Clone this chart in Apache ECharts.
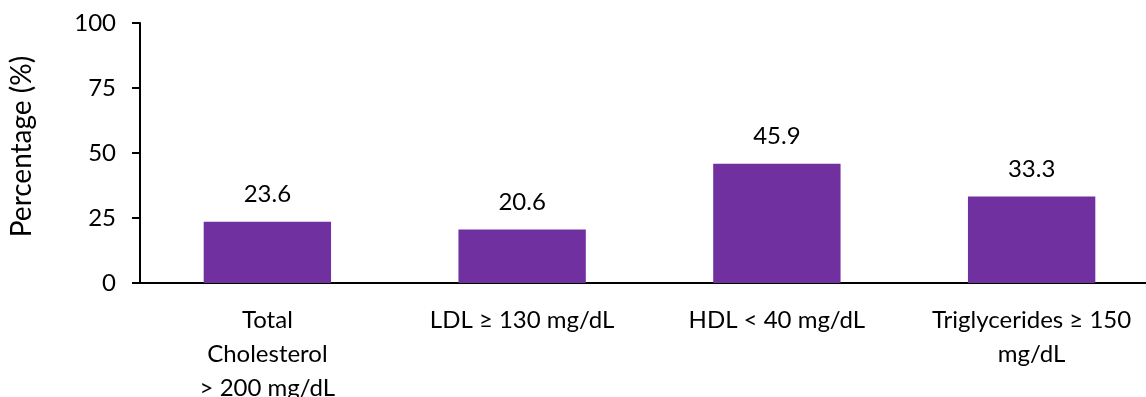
<!DOCTYPE html>
<html>
<head>
<meta charset="utf-8">
<script src="https://cdn.jsdelivr.net/npm/echarts@6/dist/echarts.min.js"></script>
<style>
  html, body { margin: 0; padding: 0; background: #fff; }
  #chart { width: 1146px; height: 397px; }
</style>
</head>
<body>
<div id="chart"></div>
<script>
// Lipid abnormality prevalence
const categories = [
  'Total\nCholesterol\n> 200 mg/dL',
  'LDL ≥ 130 mg/dL',
  'HDL < 40 mg/dL',
  'Triglycerides ≥ 150\nmg/dL'
];
const percentages = [23.6, 20.6, 45.9, 33.3];
const yTicks = [0, 25, 50, 75, 100];

const FONT = 'Lato, "Open Sans", sans-serif';
const chart = echarts.init(document.getElementById('chart'), null, { renderer: 'canvas' });

chart.setOption({
  animation: false,
  textStyle: { fontFamily: FONT },
  grid: {
    left: 140, right: -13, top: 23, bottom: 114,
    containLabel: false,
    outerBoundsMode: 'none'
  },
  xAxis: {
    type: 'category',
    data: categories,
    axisLine: { lineStyle: { color: '#000', width: 2 } },
    axisTick: { show: false },
    axisLabel: {
      color: '#000', fontSize: 24, fontFamily: FONT,
      margin: 20, lineHeight: 34, interval: 0, align: 'center'
    }
  },
  yAxis: {
    type: 'value',
    min: yTicks[0],
    max: yTicks[yTicks.length - 1],
    interval: yTicks[1] - yTicks[0],
    name: 'Percentage (%)',
    nameLocation: 'middle',
    nameGap: 104,
    nameTextStyle: { color: '#000', fontSize: 28, fontFamily: FONT, padding: [0, 0, 0, 13] },
    axisLine: { show: true, lineStyle: { color: '#000', width: 2 } },
    axisTick: { show: true, length: 8, lineStyle: { color: '#000', width: 2 } },
    axisLabel: { color: '#000', fontSize: 24, fontFamily: FONT, margin: 24 },
    splitLine: { show: false }
  },
  series: [{
    type: 'bar',
    data: percentages,
    barWidth: '50%',
    itemStyle: { color: '#7030A0' },
    label: {
      show: true, position: 'top', distance: 15,
      color: '#000', fontSize: 24, fontFamily: FONT,
      formatter: p => p.value.toFixed(1)
    }
  }]
});
</script>
</body>
</html>
